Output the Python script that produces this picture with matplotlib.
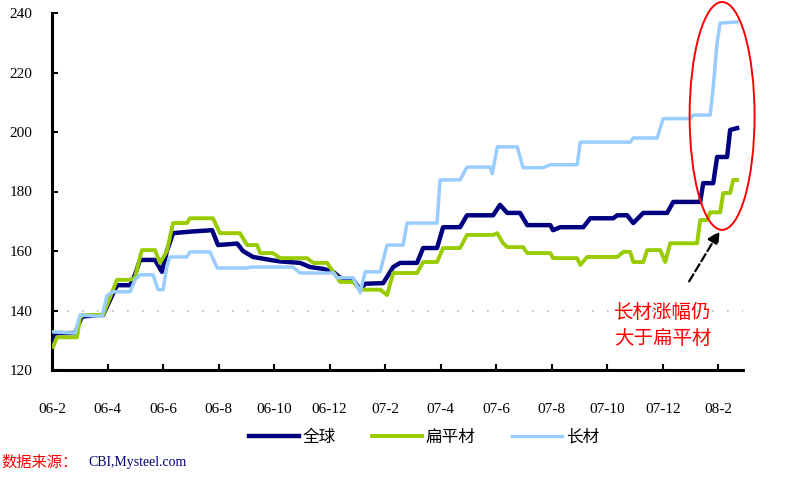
import matplotlib
matplotlib.use("Agg")
import matplotlib.pyplot as plt
from matplotlib import patches

plt.rcParams['font.family'] = ['Noto Sans CJK SC', 'DejaVu Sans']

# months since 2006-02
tick_labels = ["06-2", "06-4", "06-6", "06-8", "06-10", "06-12", "07-2",
               "07-4", "07-6", "07-8", "07-10", "07-12", "08-2"]
series_names = ["全球", "扁平材", "长材"]

global_x = [0.04, 0.14, 0.83, 1.08, 1.84, 2.34, 2.81, 2.99, 3.17, 3.71, 3.96,
            4.14, 4.36, 4.97, 5.77, 5.98, 6.67, 6.88, 7.24, 7.86, 8.22, 8.94,
            9.30, 9.77, 10.13, 10.38, 10.85, 11.10, 11.28, 11.93, 12.29, 12.54,
            13.15, 13.37, 13.87, 14.09, 14.70, 14.95, 15.89, 16.14, 16.40,
            16.86, 17.12, 17.95, 18.05, 18.31, 19.14, 19.39, 20.22, 20.36,
            20.72, 20.94, 21.30, 22.16, 22.38, 23.35, 23.46, 23.82, 23.96,
            24.32, 24.43, 24.68]
global_y = [129, 132.4, 132.4, 138, 138.5, 148.5, 148.5, 152, 157, 157, 153,
            160, 166, 166.5, 167, 162, 162.5, 160, 158, 157, 156.5, 156,
            154.6, 154, 153, 151, 150.3, 147, 149, 149.2, 154.6, 156,
            156, 161, 161, 168, 168, 172, 172, 175.5, 172.8,
            172.8, 168.7, 168.7, 167, 168, 168, 171, 171, 172,
            172, 169.4, 172.8, 172.8, 176.5, 176.5, 182.8, 182.8, 191.6,
            191.6, 200.7, 201.3]

flat_x = [0.04, 0.18, 0.90, 1.01, 1.12, 1.84, 2.34, 2.81, 2.99, 3.17, 3.24,
          3.71, 3.89, 4.14, 4.36, 4.86, 4.97, 5.80, 6.05, 6.77, 7.03, 7.39,
          7.50, 7.96, 8.22, 9.19, 9.41, 9.91, 10.13, 10.38, 10.85, 11.10,
          11.82, 12.07, 12.29, 13.15, 13.37, 13.87, 14.09, 14.70, 14.95,
          15.89, 16.04, 16.25, 16.40, 16.97, 17.12, 17.95, 18.05, 18.92,
          19.03, 19.28, 20.36, 20.58, 20.83, 20.94, 21.30, 21.44, 21.91,
          22.09, 22.27, 23.24, 23.35, 23.60, 23.71, 24.07, 24.18, 24.43,
          24.54, 24.68]
flat_y = [127.8, 131, 131, 137.5, 138.5, 138.5, 150.3, 150.3, 151, 158, 160.3,
          160.3, 156, 160, 169.4, 169.4, 171, 171, 166, 166, 162, 162,
          159.3, 159.3, 157.6, 157.6, 156, 156, 153, 149.6, 149.6, 147,
          147, 145.2, 152.6, 152.6, 156.3, 156.3, 161, 161, 165.4,
          165.4, 166, 162.6, 161.3, 161.3, 159.3, 159.3, 157.6, 157.6,
          155.3, 158, 158, 159.7, 159.7, 156.3, 156.3, 160.3, 160.3,
          156.3, 162.6, 162.6, 170.4, 170.4, 173, 173, 179.5, 179.5,
          183.9, 183.9]

long_x = [0.04, 0.83, 1.01, 1.80, 1.98, 2.20, 2.81, 2.99, 3.17, 3.64, 3.82,
          4.00, 4.14, 4.25, 4.86, 4.97, 5.69, 5.95, 7.03, 7.14, 8.68, 8.94,
          10.13, 10.27, 10.85, 11.10, 11.28, 11.82, 12.07, 12.65, 12.79,
          13.87, 13.98, 14.70, 14.95, 15.78, 15.86, 16.04, 16.76, 16.97,
          17.69, 17.95, 18.92, 19.03, 20.83, 20.94, 21.80, 22.02, 22.99,
          23.10, 23.71, 23.82, 23.96, 24.07, 24.68]
long_y = [132.8, 132.4, 138.5, 138, 145, 146.3, 146.3, 150.3, 152, 152, 147,
          147, 155, 158, 158, 159.7, 159.7, 154.3, 154.3, 154.6, 154.6, 152.6,
          152.6, 151, 151, 146, 153, 153, 162, 162, 169.4,
          169.4, 183.9, 183.9, 188.2, 188.2, 186, 195, 195, 188,
          188, 189, 189, 196.6, 196.6, 198, 198, 204.5, 204.5,
          205.7, 205.7, 215, 230, 236.6, 237]

fig = plt.figure(figsize=(8, 5), dpi=100)
ax = fig.add_axes([0.065, 0.26, 0.864, 0.714])

ax.axhline(140, color="#bbbbbb", linestyle=(0, (1, 8)), linewidth=1.2, zorder=1)

ax.plot(global_x, global_y, color="#000080", linewidth=3.2, label=series_names[0], zorder=3)
ax.plot(flat_x, flat_y, color="#99CC00", linewidth=2.8, label=series_names[1], zorder=3)
ax.plot(long_x, long_y, color="#99CCFF", linewidth=2.5, label=series_names[2], zorder=4)

ax.set_xlim(0, 24.9)
ax.set_ylim(120, 240)
ax.set_xticks(range(0, 25, 2))
ax.set_xticklabels(tick_labels, family="Liberation Serif", fontsize=11)
ax.set_yticks(range(120, 241, 20))
ax.set_yticklabels([str(v) for v in range(120, 241, 20)], family="Liberation Serif", fontsize=11)
ax.tick_params(axis="both", direction="in", length=4, width=1.5)
ax.tick_params(axis="x", pad=24)
ax.tick_params(axis="y", pad=14)
for s in ["top", "right"]:
    ax.spines[s].set_visible(False)
for s in ["left", "bottom"]:
    ax.spines[s].set_linewidth(2.2)

# red ellipse around the recent rise
ax.add_patch(patches.Ellipse((24.14, 205.4), 2.34, 76.6, fill=False,
                             edgecolor="red", linewidth=1.4, clip_on=False, zorder=5))
ax.annotate("", xy=(24.1, 167.5), xytext=(22.9, 149.0),
            arrowprops=dict(arrowstyle="-|>", color="black", linestyle="--",
                            linewidth=1.6, mutation_scale=18),
            annotation_clip=False)
ax.text(22.0, 135.0, "长材涨幅仍\n大于扁平材", color="red", fontsize=14,
        ha="center", va="center", linespacing=1.3)

fig.legend(loc="center", bbox_to_anchor=(0.53, 0.126), ncol=3, frameon=False,
           fontsize=12, handlelength=3, columnspacing=2.2, handletextpad=0.2)

fig.text(0.002, 0.075, "数据来源：", color="red", fontsize=11, ha="left", va="center")
fig.text(0.11, 0.075, "CBI,Mysteel.com", color="#000080", fontsize=10,
         family="Liberation Serif", ha="left", va="center")

plt.savefig("out.png", dpi=100)
